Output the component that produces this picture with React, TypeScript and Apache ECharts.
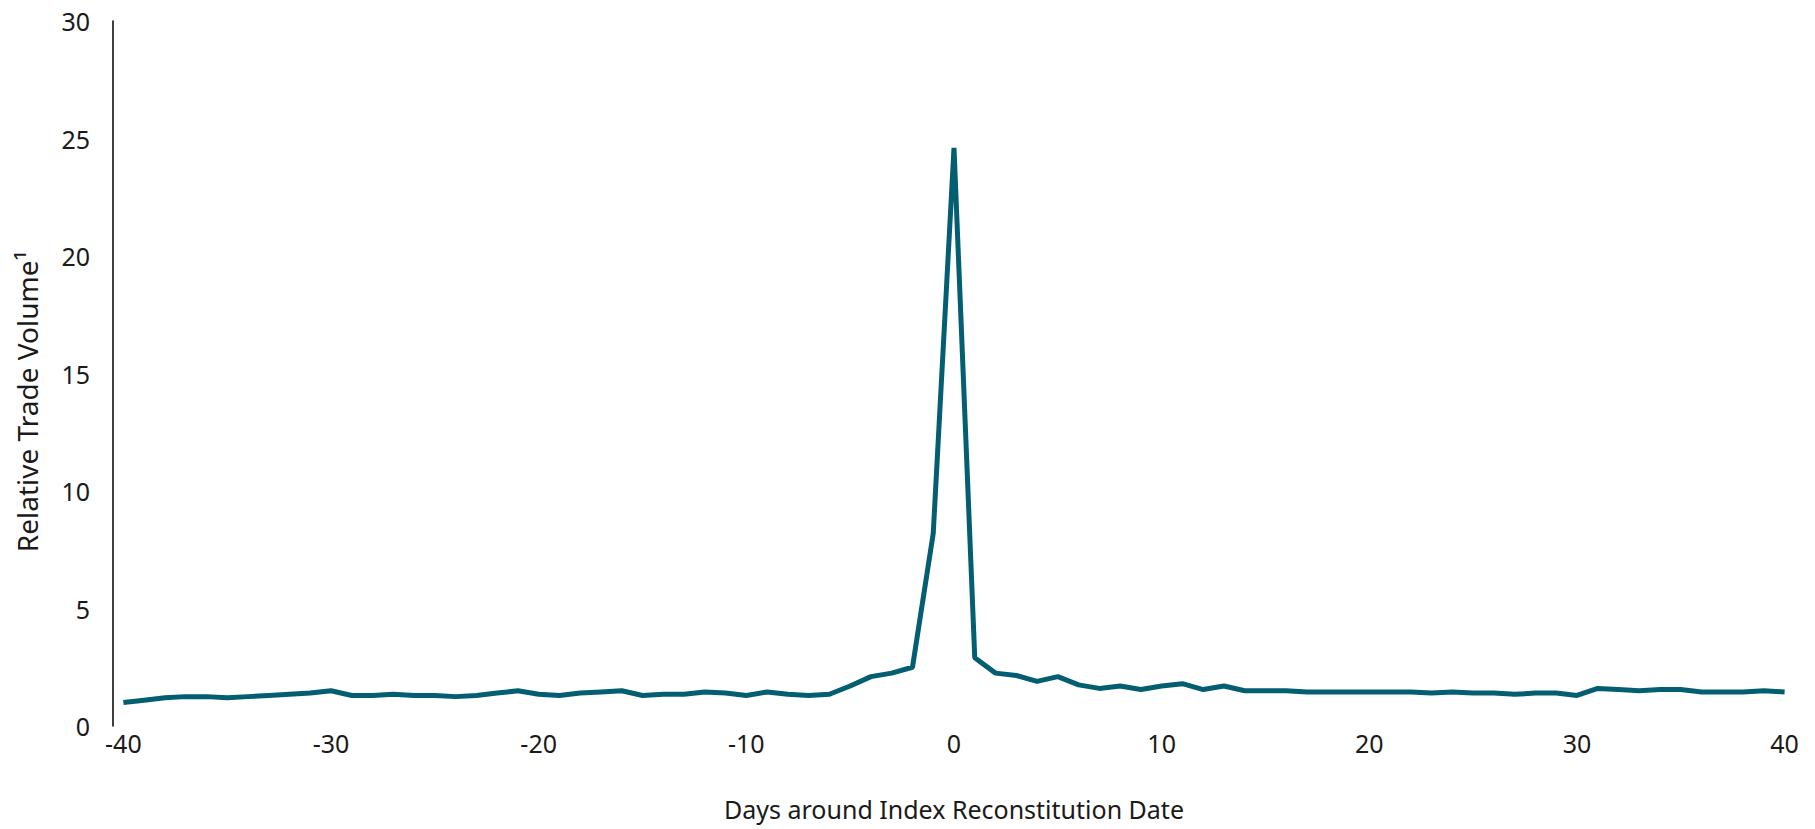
import React, { useEffect, useRef } from "react";
import * as echarts from "echarts";

const days: string[] = [];
for (let d = -40; d <= 40; d++) days.push(String(d));

const relativeVolume: number[] = [
  1.0, 1.1, 1.2, 1.25, 1.25, 1.2, 1.25, 1.3, 1.35, 1.4,
  1.5, 1.3, 1.3, 1.35, 1.3, 1.3, 1.25, 1.3, 1.4, 1.5,
  1.35, 1.3, 1.4, 1.45, 1.5, 1.3, 1.35, 1.35, 1.45, 1.4,
  1.3, 1.45, 1.35, 1.3, 1.35, 1.7, 2.1, 2.25, 2.5, 8.2,
  24.6,
  2.9, 2.25, 2.15, 1.9, 2.1, 1.75, 1.6, 1.7, 1.55, 1.7,
  1.8, 1.55, 1.7, 1.5, 1.5, 1.5, 1.45, 1.45, 1.45, 1.45,
  1.45, 1.45, 1.4, 1.45, 1.4, 1.4, 1.35, 1.4, 1.4, 1.3,
  1.6, 1.55, 1.5, 1.55, 1.55, 1.45, 1.45, 1.45, 1.5, 1.45,
];

const FONT = "'Noto Sans', 'Open Sans', sans-serif";
const TEXT = "#1a1a1a";

export default function App() {
  const ref = useRef<HTMLDivElement>(null);
  useEffect(() => {
    if (!ref.current) return;
    const chart = echarts.init(ref.current, null, { renderer: "svg" });
    chart.setOption({
      animation: false,
      backgroundColor: "#ffffff",
      grid: { left: 113, right: 20, top: 21, bottom: 103, containLabel: false },
      xAxis: {
        type: "category",
        data: days,
        boundaryGap: true,
        name: "Days around Index Reconstitution Date",
        nameLocation: "middle",
        nameGap: 70,
        nameTextStyle: { fontFamily: FONT, fontSize: 25, color: TEXT },
        axisLine: { show: false },
        axisTick: { show: false },
        axisLabel: {
          interval: 9,
          fontFamily: FONT,
          fontSize: 25,
          color: TEXT,
          margin: 4,
        },
        splitLine: { show: false },
      },
      yAxis: {
        type: "value",
        min: 0,
        max: 30,
        interval: 5,
        name: "Relative Trade Volume\u00b9",
        nameLocation: "middle",
        nameGap: 72,
        nameTextStyle: {
          fontFamily: FONT,
          fontSize: 28,
          color: TEXT,
          padding: [0, 56, 0, 0],
        },
        axisLine: { show: true, lineStyle: { color: "#000", width: 1.5 } },
        axisTick: { show: false },
        axisLabel: { fontFamily: FONT, fontSize: 25, color: TEXT, margin: 23 },
        splitLine: { show: false },
      },
      series: [
        {
          type: "line",
          data: relativeVolume,
          symbol: "none",
          lineStyle: { color: "#045e72", width: 5 },
          itemStyle: { color: "#045e72" },
        },
      ],
    });
    return () => chart.dispose();
  }, []);
  return (
    <div
      ref={ref}
      style={{ position: "absolute", left: 0, top: 0, width: 1815, height: 829 }}
    />
  );
}
